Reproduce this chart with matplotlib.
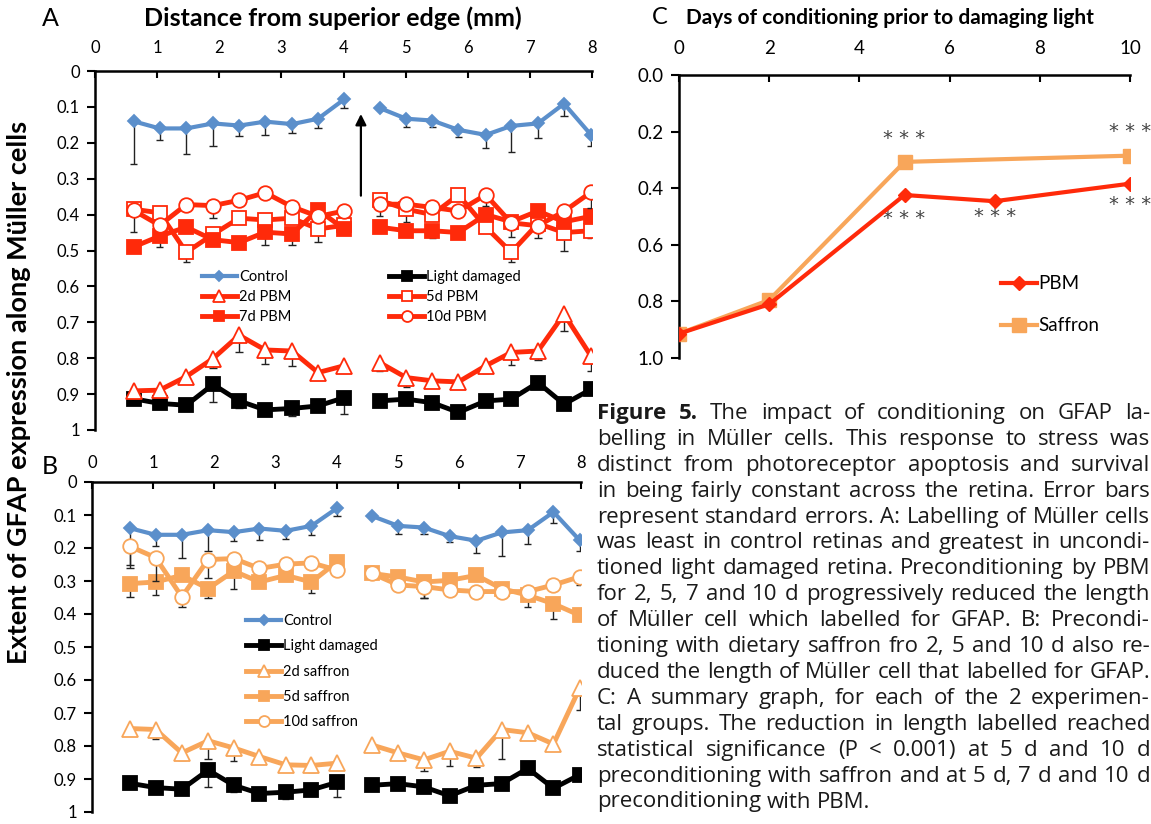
import numpy as np
import matplotlib
matplotlib.use("Agg")
import matplotlib.pyplot as plt

plt.rcParams['font.family'] = ['Lato', 'DejaVu Sans']

#################################################################
# data
#################################################################

# distance from superior edge (mm), two halves of the retina
x_left = [0.62, 1.04, 1.47, 1.90, 2.32, 2.74, 3.17, 3.59, 4.01]
x_right = [4.58, 5.01, 5.43, 5.85, 6.29, 6.70, 7.13, 7.55, 7.98]

ctrl_l = [0.140, 0.160, 0.160, 0.146, 0.152, 0.141, 0.148, 0.133, 0.079]
ctrl_r = [0.103, 0.133, 0.138, 0.164, 0.178, 0.153, 0.146, 0.091, 0.177]
ctrl_el = [0.12, 0.033, 0.07, 0.062, 0.028, 0.036, 0.024, 0.027, 0.024]
ctrl_er = [0.0, 0.024, 0.019, 0.019, 0.037, 0.072, 0.042, 0.034, 0.033]

ld_l = [0.913, 0.926, 0.931, 0.873, 0.919, 0.944, 0.940, 0.933, 0.910]
ld_r = [0.919, 0.914, 0.924, 0.951, 0.919, 0.914, 0.868, 0.928, 0.887]
ld_el = [0.012, 0.0, 0.0, 0.05, 0.02, 0.0, 0.02, 0.0, 0.045]
ld_er = [0.0, 0.0, 0.0, 0.0, 0.015, 0.0, 0.0, 0.0, 0.0]

pbm2_l = [0.891, 0.889, 0.851, 0.801, 0.736, 0.777, 0.780, 0.840, 0.821]
pbm2_r = [0.812, 0.854, 0.863, 0.866, 0.821, 0.784, 0.780, 0.677, 0.793]
pbm2_el = [0.02, 0.0, 0.015, 0.025, 0.048, 0.038, 0.042, 0.0, 0.0]
pbm2_er = [0.023, 0.026, 0.0, 0.0, 0.02, 0.035, 0.025, 0.048, 0.042]

pbm5_l = [0.385, 0.395, 0.505, 0.455, 0.410, 0.415, 0.410, 0.440, 0.430]
pbm5_r = [0.360, 0.385, 0.400, 0.345, 0.435, 0.505, 0.425, 0.450, 0.445]
pbm5_el = [0.0, 0.0, 0.027, 0.0, 0.0, 0.0, 0.0, 0.037, 0.0]
pbm5_er = [0.0, 0.035, 0.0, 0.0, 0.0, 0.028, 0.0, 0.05, 0.02]

pbm7_l = [0.490, 0.460, 0.435, 0.470, 0.478, 0.449, 0.454, 0.387, 0.440]
pbm7_r = [0.435, 0.445, 0.445, 0.450, 0.400, 0.420, 0.390, 0.420, 0.405]
pbm7_el = [0.0, 0.03, 0.0, 0.015, 0.0, 0.037, 0.03, 0.0, 0.0]
pbm7_er = [0.0, 0.0, 0.02, 0.0, 0.0, 0.0, 0.0, 0.0, 0.0]

pbm10_l = [0.388, 0.430, 0.372, 0.375, 0.360, 0.339, 0.378, 0.405, 0.390]
pbm10_r = [0.371, 0.371, 0.380, 0.390, 0.345, 0.423, 0.431, 0.391, 0.338]
pbm10_el = [0.06, 0.0, 0.0, 0.035, 0.0, 0.0, 0.0, 0.0, 0.0]
pbm10_er = [0.034, 0.0, 0.0, 0.0, 0.03, 0.04, 0.035, 0.0, 0.044]

saf2_l = [0.747, 0.750, 0.821, 0.784, 0.806, 0.832, 0.857, 0.859, 0.852]
saf2_r = [0.797, 0.821, 0.842, 0.816, 0.837, 0.750, 0.760, 0.794, 0.624]
saf2_el = [0.0, 0.03, 0.02, 0.056, 0.04, 0.0, 0.0, 0.02, 0.0]
saf2_er = [0.0, 0.0, 0.033, 0.044, 0.028, 0.09, 0.02, 0.0, 0.066]

saf5_l = [0.308, 0.303, 0.283, 0.323, 0.270, 0.303, 0.283, 0.303, 0.242]
saf5_r = [0.277, 0.288, 0.303, 0.298, 0.283, 0.323, 0.343, 0.369, 0.404]
saf5_el = [0.04, 0.04, 0.0, 0.03, 0.055, 0.0, 0.0, 0.032, 0.0]
saf5_er = [0.0, 0.0, 0.05, 0.0, 0.0, 0.0, 0.037, 0.045, 0.0]

saf10_l = [0.195, 0.229, 0.348, 0.235, 0.232, 0.262, 0.249, 0.245, 0.267]
saf10_r = [0.277, 0.312, 0.317, 0.327, 0.332, 0.332, 0.332, 0.312, 0.287]
saf10_el = [0.055, 0.07, 0.03, 0.055, 0.0, 0.0, 0.0, 0.0, 0.0]
saf10_er = [0.0, 0.0, 0.035, 0.0, 0.0, 0.0, 0.0, 0.0, 0.025]

# panel C summary
days_pbm = [0, 2, 5, 7, 10]
summ_pbm = [0.914, 0.810, 0.424, 0.446, 0.384]
days_saf = [0, 2, 5, 10]
summ_saf = [0.914, 0.795, 0.307, 0.285]
star_x = [5, 10, 5, 7, 10]
star_y = [0.224, 0.198, 0.507, 0.500, 0.456]

ytick_vals = [0, 0.1, 0.2, 0.3, 0.4, 0.5, 0.6, 0.7, 0.8, 0.9, 1]
ytick_labs = ['0', '0.1', '0.2', '0.3', '0.4', '0.5', '0.6', '0.7', '0.8', '0.9', '1']

caption = [
    "Figure 5. The impact of conditioning on GFAP la-",
    "belling in Müller cells. This response to stress was",
    "distinct from photoreceptor apoptosis and survival",
    "in being fairly constant across the retina. Error bars",
    "represent standard errors. A: Labelling of Müller cells",
    "was least in control retinas and greatest in uncondi-",
    "tioned light damaged retina. Preconditioning by PBM",
    "for 2, 5, 7 and 10 d progressively reduced the length",
    "of Müller cell which labelled for GFAP. B: Precondi-",
    "tioning with dietary saffron fro 2, 5 and 10 d also re-",
    "duced the length of Müller cell that labelled for GFAP.",
    "C: A summary graph, for each of the 2 experimen-",
    "tal groups. The reduction in length labelled reached",
    "statistical significance (P < 0.001) at 5 d and 10 d",
    "preconditioning with saffron and at 5 d, 7 d and 10 d",
    "preconditioning with PBM.",
]

BLUE = '#5b8fcb'
RED = '#ff2a0a'
ORANGE = '#f8a65a'

#################################################################
# helpers
#################################################################

W, H = 1151, 824
fig = plt.figure(figsize=(W / 100, H / 100), dpi=100)


def px_axes(x0, y0, x1, y1):
    return fig.add_axes([x0 / W, 1 - y1 / H, (x1 - x0) / W, (y1 - y0) / H])


def style(ax, xmax, xticks, yvals, ylabs, fs, xpad):
    ax.set_xlim(0, xmax)
    ax.set_ylim(1, 0)
    ax.xaxis.tick_top()
    ax.set_xticks(xticks)
    ax.set_yticks(yvals)
    ax.set_yticklabels(ylabs)
    for s in ['right', 'bottom']:
        ax.spines[s].set_visible(False)
    for s in ['left', 'top']:
        ax.spines[s].set_linewidth(1.8)
    ax.tick_params(axis='x', direction='in', length=5, width=1.5, pad=xpad, labelsize=fs)
    ax.tick_params(axis='y', direction='out', length=6, width=1.5, pad=5, labelsize=fs)
    ax.patch.set_alpha(0)


def ebars(ax, x, y, e, z):
    x, y, e = np.asarray(x), np.asarray(y), np.asarray(e)
    m = e > 0
    ax.vlines(x[m], y[m], y[m] + e[m], color='#222222', lw=1.0, zorder=z)
    ax.hlines(y[m] + e[m], x[m] - 0.06, x[m] + 0.06, color='#222222', lw=1.0, zorder=z)


def series(ax, yl, yr, el, er, color, marker, ms, mfc, lw, label, z):
    ebars(ax, x_left, yl, el, z - 0.5)
    ebars(ax, x_right, yr, er, z - 0.5)
    h, = ax.plot(x_left, yl, color=color, lw=lw, marker=marker, ms=ms, mfc=mfc,
                 mec=color, mew=1.3, zorder=z, label=label)
    ax.plot(x_right, yr, color=color, lw=lw, marker=marker, ms=ms, mfc=mfc,
            mec=color, mew=1.3, zorder=z)
    return h


#################################################################
# panel A
#################################################################

axA = px_axes(95, 71, 592, 430)
style(axA, 8, range(9), ytick_vals, ytick_labs, 12, 11)

hA = []
hA.append(series(axA, ctrl_l, ctrl_r, ctrl_el, ctrl_er, BLUE, 'D', 6.5, BLUE, 3.0, 'Control', 3))
hA.append(series(axA, ld_l, ld_r, ld_el, ld_er, 'black', 's', 10, 'black', 3.5, 'Light damaged', 4))
hA.append(series(axA, pbm2_l, pbm2_r, pbm2_el, pbm2_er, RED, '^', 11, 'white', 3.5, '2d PBM', 5))
hA.append(series(axA, pbm5_l, pbm5_r, pbm5_el, pbm5_er, RED, 's', 10, 'white', 3.5, '5d PBM', 6))
hA.append(series(axA, pbm7_l, pbm7_r, pbm7_el, pbm7_er, RED, 's', 10, RED, 3.5, '7d PBM', 7))
hA.append(series(axA, pbm10_l, pbm10_r, pbm10_el, pbm10_er, RED, 'o', 10.5, 'white', 3.5, '10d PBM', 8))

order = [0, 2, 4, 1, 3, 5]
axA.legend([hA[i] for i in order], [hA[i].get_label() for i in order], ncol=2,
           loc='upper left', bbox_to_anchor=(0.215, 0.445), frameon=False, fontsize=10.5,
           handlelength=2.4, handletextpad=0.15, columnspacing=6.7, labelspacing=0.42,
           borderpad=0, borderaxespad=0, markerscale=0.75)

axA.annotate('', xy=(4.28, 0.112), xytext=(4.28, 0.355),
             arrowprops=dict(arrowstyle='-|>', color='black', lw=1.6, mutation_scale=16))

#################################################################
# panel B
#################################################################

axB = px_axes(92, 482, 581, 812)
style(axB, 8, range(9), ytick_vals, ytick_labs, 12, 8)

hB = []
hB.append(series(axB, ctrl_l, ctrl_r, ctrl_el, ctrl_er, BLUE, 'D', 6.5, BLUE, 3.0, 'Control', 3))
hB.append(series(axB, ld_l, ld_r, ld_el, ld_er, 'black', 's', 10, 'black', 3.5, 'Light damaged', 4))
hB.append(series(axB, saf2_l, saf2_r, saf2_el, saf2_er, ORANGE, '^', 11, 'white', 3.5, '2d saffron', 5))
hB.append(series(axB, saf5_l, saf5_r, saf5_el, saf5_er, ORANGE, 's', 10, ORANGE, 3.5, '5d saffron', 6))
hB.append(series(axB, saf10_l, saf10_r, saf10_el, saf10_er, ORANGE, 'o', 10.5, 'white', 3.5, '10d saffron', 7))

axB.legend(handles=hB, loc='upper left', bbox_to_anchor=(0.315, 0.6), frameon=False,
           fontsize=10.5, handlelength=2.4, handletextpad=0.15, labelspacing=0.78,
           borderpad=0, borderaxespad=0, markerscale=0.75)

#################################################################
# panel C
#################################################################

axC = px_axes(679, 75, 1130, 358)
style(axC, 10, range(0, 11, 2), np.arange(0, 1.01, 0.2),
      ['0.0', '0.2', '0.4', '0.6', '0.8', '1.0'], 13.5, 13)
axC.plot(days_saf, summ_saf, color=ORANGE, lw=3, marker='s', ms=10, zorder=3, label='Saffron')
axC.plot(days_pbm, summ_pbm, color=RED, lw=3, marker='D', ms=7, zorder=4, label='PBM')
for sx, sy in zip(star_x, star_y):
    axC.text(sx, sy, '* * *', ha='center', va='center', fontsize=14, color='#444444',
             family='DejaVu Sans', clip_on=False)
hC, lC = axC.get_legend_handles_labels()
axC.legend(hC[::-1], lC[::-1], loc='upper left', bbox_to_anchor=(0.714, 0.293), frameon=False,
           fontsize=13.5, handlelength=1.9, handletextpad=0.1, labelspacing=1.35,
           borderpad=0, borderaxespad=0)

#################################################################
# titles and labels
#################################################################

fig.text(42 / W, 1 - 18 / H, 'A', fontsize=18, ha='left', va='center')
fig.text(42 / W, 1 - 467 / H, 'B', fontsize=18, ha='left', va='center')
fig.text(333 / W, 1 - 18 / H, 'Distance from superior edge (mm)', fontsize=18,
         fontweight='bold', ha='center', va='center')
fig.text(652 / W, 1 - 18 / H, 'C', fontsize=17, ha='left', va='center')
fig.text(686 / W, 1 - 18 / H, 'Days of conditioning prior to damaging light', fontsize=15,
         fontweight='bold', ha='left', va='center')
fig.text(19 / W, 1 - 392 / H, 'Extent of GFAP expression along Müller cells', fontsize=19.5,
         fontweight='bold', rotation=90, ha='center', va='center')

# caption, justified line by line; font size chosen so the widest line fits
renderer = fig.canvas.get_renderer()
cap_font = 'Open Sans'
L, R = 597, 1150


def wwidth(s, weight, fs):
    t = fig.text(0, 0, s, fontsize=fs, family=cap_font, weight=weight)
    w = t.get_window_extent(renderer).width
    t.remove()
    return w


def line_parts(i, fs):
    words = caption[i].split(' ')
    weights = ['bold' if (i == 0 and j < 2) else 'normal' for j in range(len(words))]
    widths = [wwidth(w, wt, fs) for w, wt in zip(words, weights)]
    return words, weights, widths


fs0 = 12.0
sp0 = wwidth('a a', 'normal', fs0) - 2 * wwidth('a', 'normal', fs0)
nat = []
for i in range(len(caption) - 1):
    words, weights, widths = line_parts(i, fs0)
    nat.append(sum(widths) + sp0 * (len(words) - 1))
cap_fs = fs0 * (R - L - 4) / max(nat)
space_w = wwidth('a a', 'normal', cap_fs) - 2 * wwidth('a', 'normal', cap_fs)

for i in range(len(caption)):
    words, weights, widths = line_parts(i, cap_fs)
    if i < len(caption) - 1:
        gap = (R - L - sum(widths)) / (len(words) - 1)
    else:
        gap = space_w
    yb = 419 + 25.9 * i
    x = L
    for w, wt, ww in zip(words, weights, widths):
        fig.text(x / W, 1 - yb / H, w, fontsize=cap_fs, family=cap_font, weight=wt,
                 ha='left', va='baseline', color='#1a1a1a')
        x += ww + gap

fig.savefig('out.png', dpi=100)
